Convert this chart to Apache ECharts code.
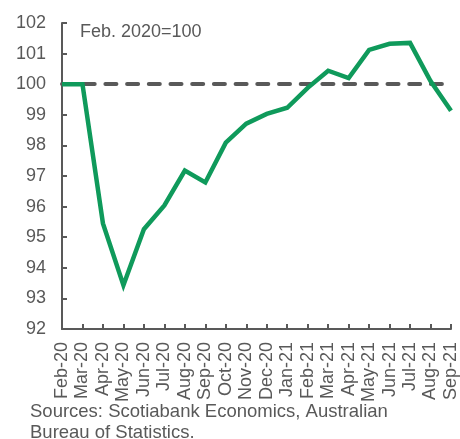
<!DOCTYPE html>
<html>
<head>
<meta charset="utf-8">
<script src="https://cdn.jsdelivr.net/npm/echarts@6/dist/echarts.min.js"></script>
<style>
  html, body { margin: 0; padding: 0; background: #fff; }
  #chart { width: 460px; height: 439px; }
</style>
</head>
<body>
<div id="chart"></div>
<script>
// 数据
const months = ['Feb-20', 'Mar-20', 'Apr-20', 'May-20', 'Jun-20', 'Jul-20', 'Aug-20', 'Sep-20', 'Oct-20', 'Nov-20',
    'Dec-20', 'Jan-21', 'Feb-21', 'Mar-21', 'Apr-21', 'May-21', 'Jun-21', 'Jul-21', 'Aug-21', 'Sep-21'];
const index = [100, 100, 95.45, 93.43, 95.26, 96.04, 97.18, 96.79, 98.09, 98.71,
    99.03, 99.23, 99.88, 100.44, 100.2, 101.12, 101.32, 101.35, 100.1, 99.13];
const baseLevel = 100;

const grey = '#595959';
const font = 'Liberation Sans, Arial, sans-serif';

const chart = echarts.init(document.getElementById('chart'));

const option = {
    animation: false,
    grid: { left: 62, right: 5, top: 23, bottom: 110, containLabel: false },
    xAxis: {
        type: 'category',
        data: months,
        boundaryGap: false,
        axisLine: { lineStyle: { color: grey, width: 2 } },
        axisTick: { inside: true, length: 5, interval: 0, lineStyle: { color: grey, width: 2 } },
        axisLabel: { rotate: 90, interval: 0, margin: 13, color: grey, fontSize: 18, fontFamily: font },
        splitLine: { show: false }
    },
    yAxis: {
        type: 'value',
        min: 92,
        max: 102,
        interval: 1,
        axisLine: { show: true, lineStyle: { color: grey, width: 2 } },
        axisTick: { show: true, inside: true, length: 5, lineStyle: { color: grey, width: 2 } },
        axisLabel: { margin: 16, color: grey, fontSize: 18, fontFamily: font },
        splitLine: { show: false }
    },
    series: [{
        type: 'line',
        data: index,
        symbol: 'none',
        z: 3,
        lineStyle: { color: '#0f9a5b', width: 4.5, join: 'miter' },
        markLine: {
            silent: true,
            symbol: 'none',
            label: { show: false },
            z: 2,
            lineStyle: { color: grey, width: 4, type: [11, 10.7], cap: 'round' },
            data: [{ yAxis: baseLevel }]
        }
    }],
    graphic: [
        {
            type: 'text', left: 80, top: 23,
            style: { text: 'Feb. 2020=100', fill: grey, fontSize: 18, fontFamily: font }
        },
        {
            type: 'text', left: 30, top: 401,
            style: {
                text: 'Sources: Scotiabank Economics, Australian\nBureau of Statistics.',
                fill: grey, fontSize: 18.5, lineHeight: 21, fontFamily: font
            }
        }
    ]
};

chart.setOption(option);
</script>
</body>
</html>
